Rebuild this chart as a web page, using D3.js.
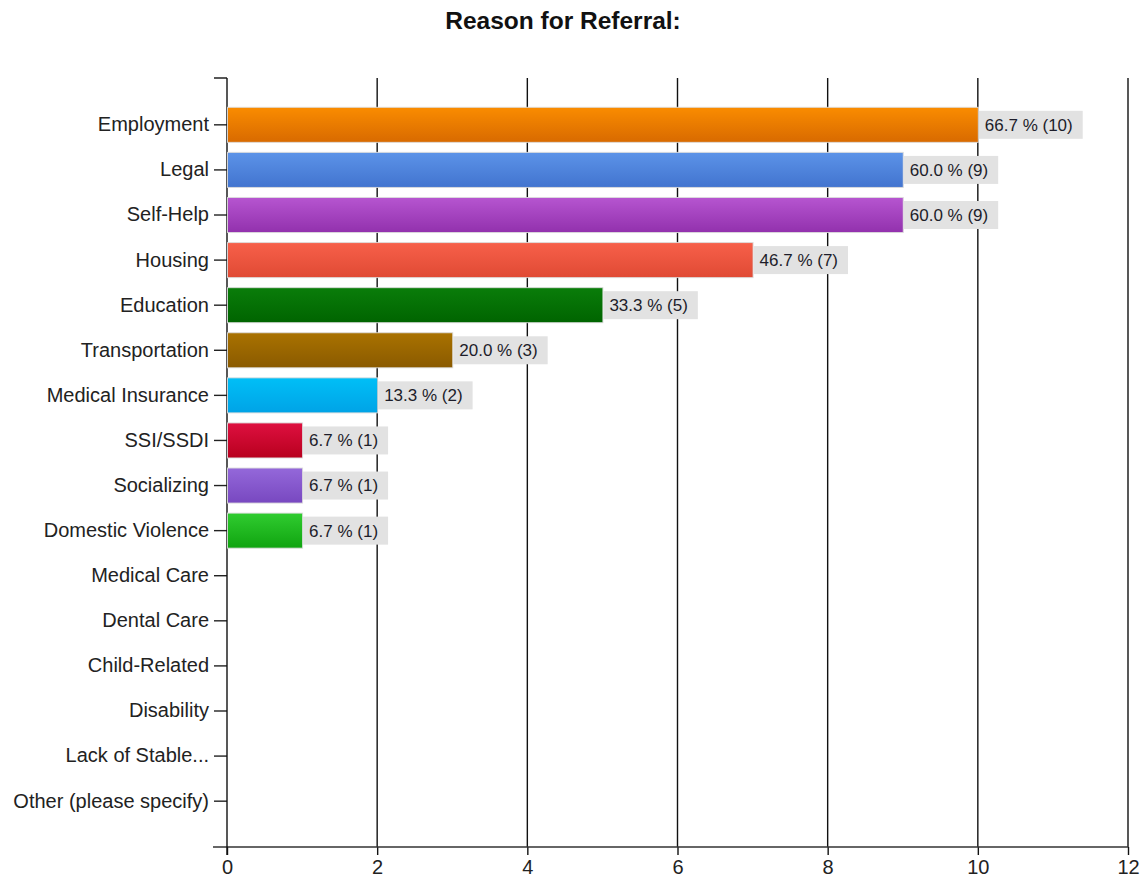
<!DOCTYPE html>
<html>
<head>
<meta charset="utf-8">
<script src="https://cdn.jsdelivr.net/npm/d3@7/dist/d3.min.js"></script>
<style>
  html, body { margin: 0; padding: 0; background: #fff; }
  svg { display: block; }
  text { font-family: "Liberation Sans", Arial, sans-serif; }
</style>
</head>
<body>
<svg id="chart" width="1148" height="883"></svg>
<script>
// Survey responses: count of people naming each referral reason
const categories = [
  "Employment", "Legal", "Self-Help", "Housing", "Education",
  "Transportation", "Medical Insurance", "SSI/SSDI", "Socializing",
  "Domestic Violence", "Medical Care", "Dental Care", "Child-Related",
  "Disability", "Lack of Stable...", "Other (please specify)"
];
const counts   = [10, 9, 9, 7, 5, 3, 2, 1, 1, 1, 0, 0, 0, 0, 0, 0];
const percents = [66.7, 60.0, 60.0, 46.7, 33.3, 20.0, 13.3, 6.7, 6.7, 6.7, 0, 0, 0, 0, 0, 0];
const xTicks   = [0, 2, 4, 6, 8, 10, 12];

// gradient stops for each bar (top colour, bottom colour)
const topColors = ["#fa8c00", "#5c93e8", "#b655d0", "#f7604a", "#0a7d0a",
                   "#a97200", "#00bff7", "#de1040", "#9468da", "#30cc30"];
const bottomColors = ["#d86a00", "#4274cf", "#9231ad", "#e04a34", "#006400",
                      "#8a5a00", "#00a3e6", "#b8001e", "#7848c0", "#10a410"];

const svg = d3.select("#chart");
const plotTop = 78, plotBottom = 847, plotLeft = 227, plotRight = 1128;

const x = d3.scaleLinear().domain([0, 12]).range([plotLeft, plotRight]);
const y = d3.scaleBand().domain(categories)
  .range([plotTop, 848]).paddingInner(0.223).paddingOuter(0.65);

// title
svg.append("text")
  .attr("x", 563).attr("y", 29)
  .attr("text-anchor", "middle")
  .attr("font-size", 24.5).attr("font-weight", "bold").attr("fill", "#111")
  .text("Reason for Referral:");

// gradients
const defs = svg.append("defs");
topColors.forEach((c, i) => {
  const g = defs.append("linearGradient").attr("id", "grad" + i)
    .attr("x1", 0).attr("y1", 0).attr("x2", 0).attr("y2", 1);
  g.append("stop").attr("offset", "0%").attr("stop-color", c);
  g.append("stop").attr("offset", "100%").attr("stop-color", bottomColors[i]);
});

// vertical grid lines
svg.append("g").selectAll("line").data(xTicks.slice(1)).join("line")
  .attr("x1", d => x(d)).attr("x2", d => x(d))
  .attr("y1", plotTop).attr("y2", plotBottom)
  .attr("stroke", "#111").attr("stroke-width", 1.4);

// x axis
const xAxis = svg.append("g")
  .attr("transform", `translate(0,${plotBottom})`)
  .call(d3.axisBottom(x).tickValues(xTicks).tickSize(8).tickSizeOuter(0).tickPadding(5));
xAxis.select(".domain").remove();
xAxis.append("line").attr("x1", 213).attr("x2", plotRight).attr("y1", 0).attr("y2", 0)
  .attr("stroke", "#333").attr("stroke-width", 1.6);
xAxis.selectAll(".tick line").attr("stroke", "#111").attr("stroke-width", 1.4);
xAxis.selectAll(".tick text")
  .attr("font-size", 20).attr("fill", "#222")
  .style("font-family", "'Liberation Sans', Arial, sans-serif");

// y axis
const yAxis = svg.append("g")
  .attr("transform", `translate(${plotLeft},0)`)
  .call(d3.axisLeft(y).tickSize(13).tickSizeOuter(0).tickPadding(5));
yAxis.select(".domain").remove();
yAxis.append("line").attr("x1", 0).attr("x2", 0)
  .attr("y1", plotTop).attr("y2", plotBottom + 8)
  .attr("stroke", "#111").attr("stroke-width", 1.4);
yAxis.append("line").attr("x1", -13).attr("x2", 0)
  .attr("y1", plotTop).attr("y2", plotTop)
  .attr("stroke", "#111").attr("stroke-width", 1.4);
yAxis.selectAll(".tick line").attr("stroke", "#222").attr("stroke-width", 1.4);
yAxis.selectAll(".tick text")
  .attr("font-size", 20).attr("fill", "#222")
  .style("font-family", "'Liberation Sans', Arial, sans-serif");

// bars
const data = categories.map((c, i) => ({ cat: c, count: counts[i], pct: percents[i], i }))
  .filter(d => d.count > 0);

svg.append("g").selectAll("rect").data(data).join("rect")
  .attr("x", x(0) + 0.5)
  .attr("y", d => y(d.cat))
  .attr("width", d => x(d.count) - x(0))
  .attr("height", y.bandwidth())
  .attr("fill", d => `url(#grad${d.i})`)
  .attr("stroke", "rgba(220,220,220,0.9)")
  .attr("stroke-width", 1);

// value labels with grey backing
const labels = svg.append("g").selectAll("g").data(data).join("g")
  .attr("transform", d => `translate(${x(d.count) + 1},${y(d.cat) + y.bandwidth() / 2})`);
labels.append("text")
  .attr("x", 6).attr("y", 0).attr("dy", "0.35em")
  .attr("font-size", 17).attr("fill", "#1d1d2a")
  .text(d => `${d.pct.toFixed(1)} % (${d.count})`);
labels.insert("rect", "text")
  .attr("x", 0).attr("y", -14).attr("height", 28)
  .attr("width", function () {
    return this.parentNode.querySelector("text").getComputedTextLength() + 16;
  })
  .attr("fill", "#e2e2e2");
</script>
</body>
</html>
